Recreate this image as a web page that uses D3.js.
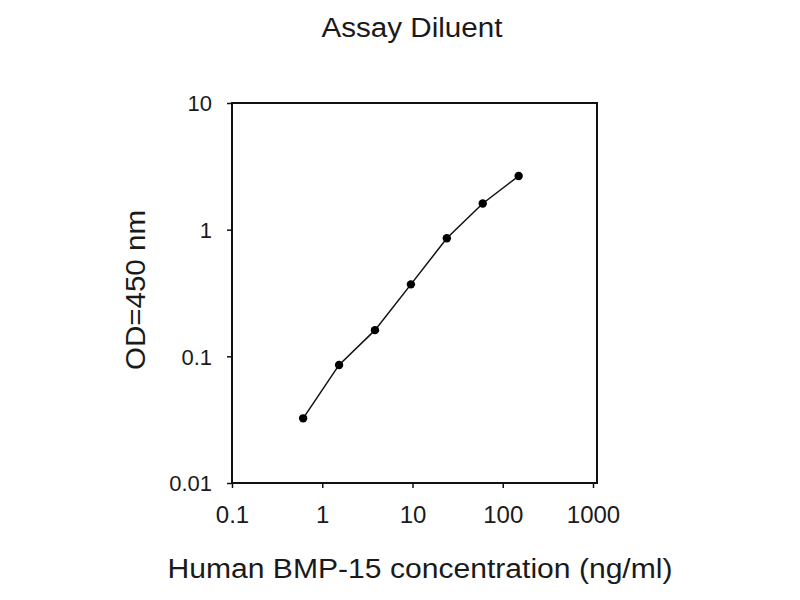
<!DOCTYPE html>
<html>
<head>
<meta charset="utf-8"/>
<script src="https://cdn.jsdelivr.net/npm/d3@7"></script>
<style>
  body { margin: 0; background: #fff; }
  text { font-family: Arial, "Liberation Sans", sans-serif; fill: #1a1a1a; }
</style>
</head>
<body>
<script>
    // values
    var conc = [0.614, 1.536, 3.84, 9.6, 24, 60, 150];
    var od = [0.0324, 0.0855, 0.161, 0.370, 0.855, 1.61, 2.65];
    var xTicks = [0.1, 1, 10, 100, 1000];
    var yTicks = [0.01, 0.1, 1, 10];
    var title = "Assay Diluent";
    var xTitle = "Human BMP-15 concentration (ng/ml)";
    var yTitle = "OD=450 nm";

    var w = 800, h = 600;
    // plot box (window.top is reserved, so own names)
    var pLeft = 232, pRight = 593, pTop = 103, pBottom = 483, boxRight = 597;

    var svg = d3.select("body")
        .append("svg")
        .attr("width", w)
        .attr("height", h);

    var x = d3.scaleLog().domain([0.1, 1000]).range([pLeft, pRight]);
    var y = d3.scaleLog().domain([0.01, 10]).range([pBottom, pTop]);

    function fmt(d) { return String(d); }

    var xAxis = svg.append("g")
        .attr("transform", "translate(0," + pBottom + ")")
        .call(d3.axisBottom(x).tickValues(xTicks).tickFormat(fmt).tickSize(5).tickSizeOuter(0));
    xAxis.select(".domain").remove();
    xAxis.selectAll("line").attr("stroke", "#111").attr("stroke-width", 1.5);
    xAxis.selectAll("text")
        .attr("y", 40)
        .attr("dy", 0)
        .style("font-size", "24px")
        .attr("fill", "#1a1a1a");

    var yAxis = svg.append("g")
        .attr("transform", "translate(" + pLeft + ",0)")
        .call(d3.axisLeft(y).tickValues(yTicks).tickFormat(fmt).tickSize(5).tickSizeOuter(0));
    yAxis.select(".domain").remove();
    yAxis.selectAll("line").attr("stroke", "#111").attr("stroke-width", 1.5);
    yAxis.selectAll("text")
        .attr("x", -20)
        .attr("dy", "0.35em")
        .style("font-size", "22px")
        .attr("fill", "#1a1a1a");

    // frame
    svg.append("rect")
        .attr("x", pLeft)
        .attr("y", pTop)
        .attr("width", boxRight - pLeft)
        .attr("height", pBottom - pTop)
        .attr("fill", "none")
        .attr("stroke", "#111")
        .attr("stroke-width", 2);

    var pts = conc.map(function(c, i) { return [c, od[i]]; });

    svg.append("path")
        .datum(pts)
        .attr("fill", "none")
        .attr("stroke", "#111")
        .attr("stroke-width", 1.5)
        .attr("d", d3.line().x(function(d) { return x(d[0]); }).y(function(d) { return y(d[1]); }));

    svg.selectAll("circle")
        .data(pts)
        .enter()
        .append("circle")
        .attr("cx", function(d) { return x(d[0]); })
        .attr("cy", function(d) { return y(d[1]); })
        .attr("r", 4.2)
        .attr("fill", "#000");

    svg.append("text")
        .attr("x", 412)
        .attr("y", 37)
        .attr("text-anchor", "middle")
        .attr("textLength", 181)
        .attr("lengthAdjust", "spacingAndGlyphs")
        .style("font-size", "27px")
        .text(title);

    svg.append("text")
        .attr("x", 420)
        .attr("y", 578)
        .attr("text-anchor", "middle")
        .attr("textLength", 505)
        .attr("lengthAdjust", "spacingAndGlyphs")
        .style("font-size", "27px")
        .text(xTitle);

    svg.append("text")
        .attr("transform", "translate(145,290) rotate(-90)")
        .attr("text-anchor", "middle")
        .attr("textLength", 160)
        .attr("lengthAdjust", "spacingAndGlyphs")
        .style("font-size", "27px")
        .text(yTitle);
</script>
</body>
</html>
